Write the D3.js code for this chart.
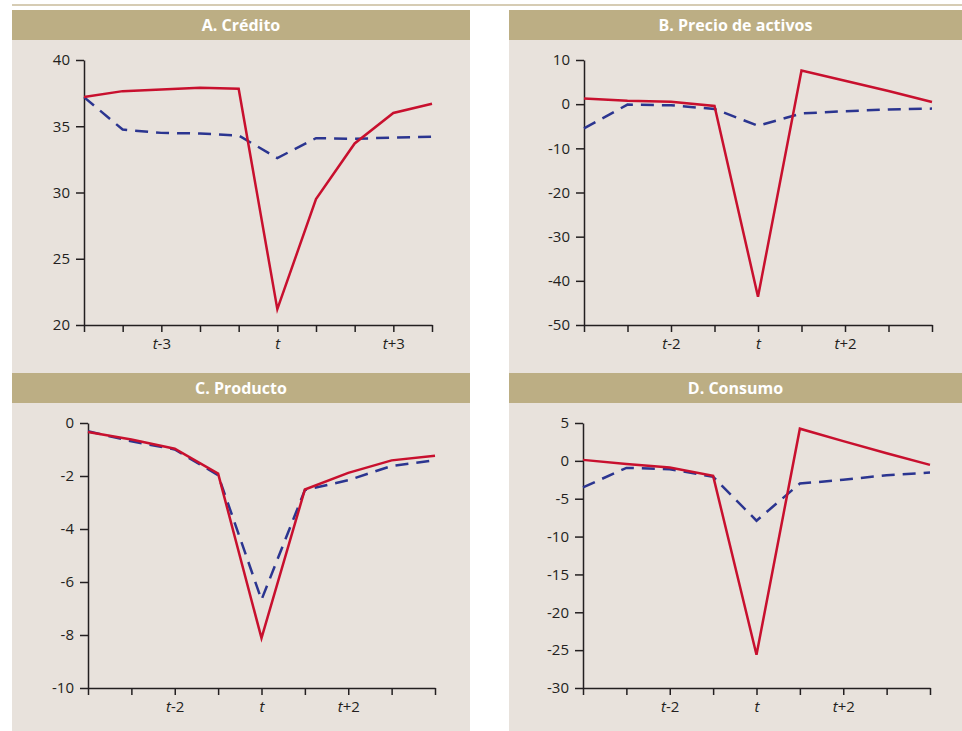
<!DOCTYPE html>
<html>
<head>
<meta charset="utf-8">
<script src="https://cdn.jsdelivr.net/npm/d3@7"></script>
<style>
  html, body { margin: 0; padding: 0; background: #ffffff; }
  svg { display: block; }
  text { font-family: "Open Sans", "Noto Sans", sans-serif; }
</style>
</head>
<body>
<svg id="chart" width="962" height="731"></svg>
<script>
// ---- Data ----
const titles = ["A. Crédito", "B. Precio de activos", "C. Producto", "D. Consumo"];

const creditoRojo = [37.2, 37.65, 37.78, 37.9, 37.83, 21.2, 29.5, 33.7, 36.0, 36.7];
const creditoAzul = [37.2, 34.75, 34.5, 34.45, 34.3, 32.6, 34.1, 34.05, 34.15, 34.2];
const creditoXLabels = ["", "", "t-3", "", "", "t", "", "", "t+3", ""];
const creditoYTicks = [20, 25, 30, 35, 40];

const precioRojo = [1.3, 0.8, 0.55, -0.4, -43.6, 7.6, 5.3, 3.0, 0.5];
const precioAzul = [-5.5, -0.1, -0.25, -1.1, -4.9, -2.1, -1.6, -1.2, -1.0];
const precioXLabels = ["", "", "t-2", "", "t", "", "t+2", "", ""];
const precioYTicks = [-50, -40, -30, -20, -10, 0, 10];

const productoRojo = [-0.34, -0.62, -0.97, -1.91, -8.12, -2.51, -1.88, -1.41, -1.24];
const productoAzul = [-0.31, -0.69, -1.0, -1.97, -6.67, -2.53, -2.16, -1.62, -1.41];
const productoXLabels = ["", "", "t-2", "", "t", "", "t+2", "", ""];
const productoYTicks = [-10, -8, -6, -4, -2, 0];

const consumoRojo = [0.13, -0.4, -0.88, -1.98, -25.6, 4.25, 2.6, 1.0, -0.53];
const consumoAzul = [-3.5, -0.93, -1.1, -2.1, -7.9, -3.0, -2.5, -1.9, -1.55];
const consumoXLabels = ["", "", "t-2", "", "t", "", "t+2", "", ""];
const consumoYTicks = [-30, -25, -20, -15, -10, -5, 0, 5];

// ---- Styles / layout ----
const colBar = "#bcae84";
const colBg = "#e8e2dc";
const colRed = "#c8102e";
const colBlue = "#2b3590";
const colAxis = "#231f20";
const colText = "#231f20";
const tickFont = 15;

const svg = d3.select("#chart");

// top rule
svg.append("line").attr("x1", 12).attr("x2", 962).attr("y1", 5).attr("y2", 5)
  .attr("stroke", "#c9bb9b").attr("stroke-width", 1.6);

const panels = [
  { title: titles[0], red: creditoRojo, blue: creditoAzul, xl: creditoXLabels, yt: creditoYTicks,
    box: [12, 10, 470, 373], plot: [84, 60, 432, 325] },
  { title: titles[1], red: precioRojo, blue: precioAzul, xl: precioXLabels, yt: precioYTicks,
    box: [509, 10, 962, 373], plot: [584, 60, 932, 325] },
  { title: titles[2], red: productoRojo, blue: productoAzul, xl: productoXLabels, yt: productoYTicks,
    box: [12, 373, 470, 731], plot: [88, 423, 435, 688] },
  { title: titles[3], red: consumoRojo, blue: consumoAzul, xl: consumoXLabels, yt: consumoYTicks,
    box: [509, 373, 962, 731], plot: [583, 423, 930, 688] }
];

panels.forEach(p => {
  const [bx0, by0, bx1, by1] = p.box;
  const [px0, py0, px1, py1] = p.plot;
  const g = svg.append("g");

  g.append("rect").attr("x", bx0).attr("y", by0).attr("width", bx1 - bx0).attr("height", by1 - by0)
    .attr("fill", colBg);
  g.append("rect").attr("x", bx0).attr("y", by0).attr("width", bx1 - bx0).attr("height", 30)
    .attr("fill", colBar);
  g.append("text").attr("x", (bx0 + bx1) / 2).attr("y", by0 + 15).attr("dy", "0.36em")
    .attr("text-anchor", "middle").attr("fill", "#ffffff")
    .attr("font-weight", "bold").attr("font-size", 16)
    .text(p.title);

  const n = p.red.length;
  const x = d3.scaleLinear().domain([0, n - 1]).range([px0, px1]);
  const y = d3.scaleLinear().domain([d3.min(p.yt), d3.max(p.yt)]).range([py1, py0]);

  // y axis
  const ya = g.append("g").attr("transform", `translate(${px0},0)`)
    .call(d3.axisLeft(y).tickValues(p.yt).tickSize(8).tickSizeOuter(0).tickPadding(6)
      .tickFormat(d => String(d)));
  ya.selectAll("path,line").attr("stroke", colAxis).attr("stroke-width", 1.5);
  ya.selectAll("text").attr("font-size", tickFont).attr("fill", colText)
    .attr("font-family", "'Open Sans', 'Noto Sans', sans-serif");

  // x axis
  const xa = g.append("g").attr("transform", `translate(0,${py1})`)
    .call(d3.axisBottom(x).tickValues(d3.range(n)).tickSize(7).tickSizeOuter(0).tickPadding(6)
      .tickFormat(() => ""));
  xa.selectAll("path,line").attr("stroke", colAxis).attr("stroke-width", 1.5);
  xa.selectAll(".tick text").each(function(d) {
    const lab = p.xl[d];
    const t = d3.select(this).attr("font-size", tickFont).attr("fill", colText)
      .attr("font-family", "'Open Sans', 'Noto Sans', sans-serif");
    if (!lab) return;
    t.append("tspan").attr("font-style", "italic").text(lab.charAt(0));
    if (lab.length > 1) t.append("tspan").text(lab.slice(1));
  });

  const line = d3.line().x((d, i) => x(i)).y(d => y(d));

  g.append("path").datum(p.blue).attr("d", line).attr("fill", "none")
    .attr("stroke", colBlue).attr("stroke-width", 2.5).attr("stroke-dasharray", "13,8");
  g.append("path").datum(p.red).attr("d", line).attr("fill", "none")
    .attr("stroke", colRed).attr("stroke-width", 2.5).attr("stroke-linejoin", "miter");
});
</script>
</body>
</html>
